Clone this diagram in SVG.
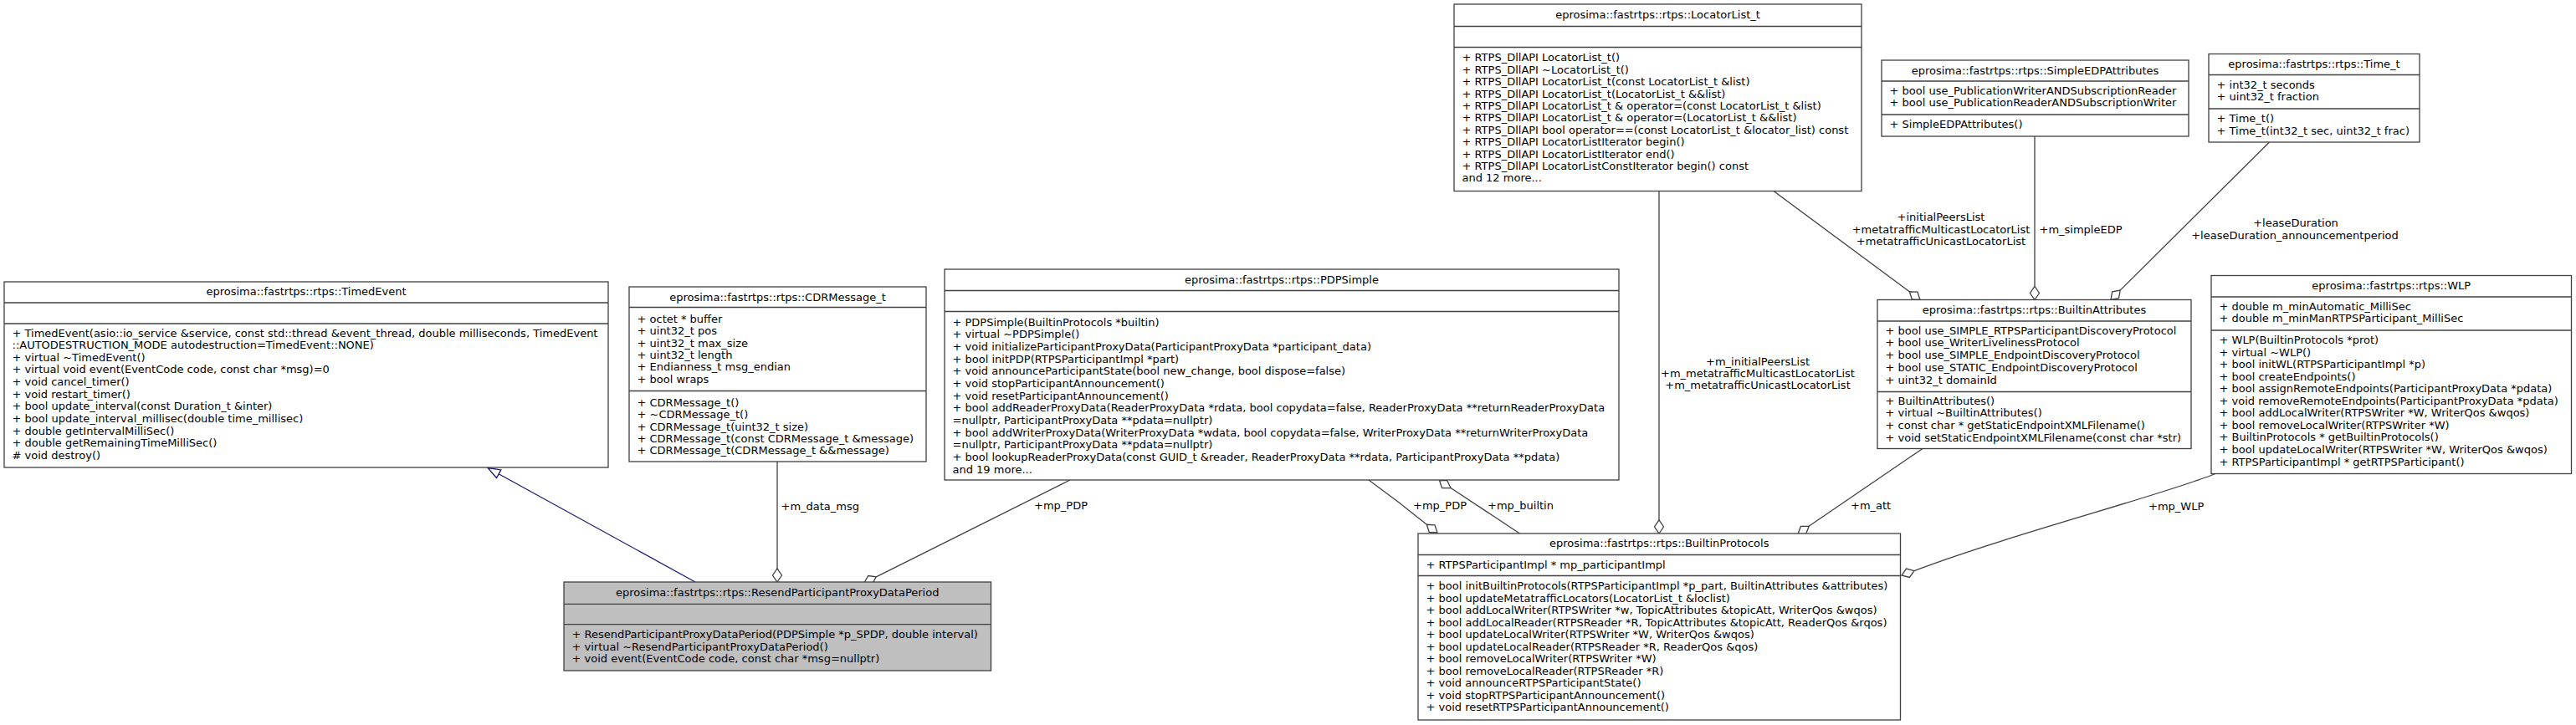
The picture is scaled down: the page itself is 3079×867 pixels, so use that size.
<svg xmlns="http://www.w3.org/2000/svg" width="3079" height="867" viewBox="0 0 3079 867">
<style>
text{font-family:"DejaVu Sans","Liberation Sans",sans-serif;font-size:13px;fill:#000}
.c{text-anchor:middle}
.box{fill:#fff;stroke:#404040;stroke-width:1.3}
.sel{fill:#bfbfbf}
.sep{stroke:#404040;stroke-width:1.3}
.e{fill:none;stroke:#404040;stroke-width:1.3}
.d{fill:#fff;stroke:#404040;stroke-width:1.3}
.inh{fill:none;stroke:#191970;stroke-width:1.3}
.tri{fill:#fff;stroke:#191970;stroke-width:1.3}
</style>
<rect width="3079" height="867" fill="#fff"/>
<g id="connectors">
  <!-- inheritance -->
  <line class="inh" x1="831" y1="696" x2="596.1" y2="566.7"/>
  <polygon class="tri" points="583,559.5 598.8,561.9 593.5,571.5"/>
  <!-- m_data_msg -->
  <line class="e" x1="929" y1="552" x2="929" y2="680"/>
  <polygon class="d" points="929,696 934.5,688 929,680 923.5,688"/>
  <text x="933.5" y="609.5">+m_data_msg</text>
  <!-- mp_PDP to Resend -->
  <line class="e" x1="1279" y1="574" x2="1047.3" y2="689.8"/>
  <polygon class="d" points="1033,697 1042.6,698.3 1047.3,689.8 1037.7,688.5"/>
  <text x="1236" y="608.5">+mp_PDP</text>
  <!-- mp_PDP to BuiltinProtocols -->
  <path class="e" d="M1636,574 Q1672,600 1705.3,627.3"/>
  <polygon class="d" points="1718,637 1708.3,636.5 1705.3,627.3 1715,627.8"/>
  <text x="1689" y="608.5">+mp_PDP</text>
  <!-- mp_builtin -->
  <line class="e" x1="1816.5" y1="638" x2="1734" y2="583.5"/>
  <polygon class="d" points="1720.6,574.8 1723.6,583.6 1734,583.5 1729.6,574.4"/>
  <text x="1778" y="608.5">+mp_builtin</text>
  <!-- LocatorList to BuiltinProtocols -->
  <line class="e" x1="1983" y1="228.5" x2="1983" y2="622"/>
  <polygon class="d" points="1983,638 1988.5,630 1983,622 1977.5,630"/>
  <text class="c" x="2101"><tspan x="2101" y="436.6">+m_initialPeersList</tspan><tspan x="2101" y="451">+m_metatrafficMulticastLocatorList</tspan><tspan x="2101" y="465.3">+m_metatrafficUnicastLocatorList</tspan></text>
  <!-- LocatorList to BuiltinAttributes -->
  <line class="e" x1="2120" y1="228.5" x2="2282.3" y2="348.8"/>
  <polygon class="d" points="2295,358.5 2285.3,358 2282.3,348.8 2292,349.2"/>
  <text class="c" x="2320"><tspan x="2320" y="264.3">+initialPeersList</tspan><tspan x="2320" y="278.6">+metatrafficMulticastLocatorList</tspan><tspan x="2320" y="293">+metatrafficUnicastLocatorList</tspan></text>
  <!-- SimpleEDP to BuiltinAttributes -->
  <line class="e" x1="2432" y1="163" x2="2432" y2="342.5"/>
  <polygon class="d" points="2432,358.5 2437.5,350.5 2432,342.5 2426.5,350.5"/>
  <text x="2437.5" y="278.6">+m_simpleEDP</text>
  <!-- Time_t to BuiltinAttributes -->
  <line class="e" x1="2712.5" y1="170" x2="2534.2" y2="347.1"/>
  <polygon class="d" points="2523,358.5 2532.5,356.7 2534.2,347.1 2524.7,348.9"/>
  <text class="c" x="2744"><tspan x="2744" y="271">+leaseDuration</tspan><tspan x="2743" y="286">+leaseDuration_announcementperiod</tspan></text>
  <!-- m_att -->
  <line class="e" x1="2298" y1="536.5" x2="2162.1" y2="629.3"/>
  <polygon class="d" points="2149,638.5 2158.7,638.4 2162.1,629.3 2152.4,629.4"/>
  <text x="2212" y="608.6">+m_att</text>
  <!-- mp_WLP -->
  <path class="e" d="M2648,566.5 C2585,592 2400,640 2288,682.6"/>
  <polygon class="d" points="2273,688 2282.4,690.5 2288,682.6 2278.6,680.1"/>
  <text x="2568" y="609.5">+mp_WLP</text>
</g>
<g id="TimedEvent">
  <rect class="box" x="5" y="337" width="722" height="222"/>
  <line class="sep" x1="5" y1="362" x2="727" y2="362"/>
  <line class="sep" x1="5" y1="387" x2="727" y2="387"/>
  <text class="c" x="366" y="353">eprosima::fastrtps::rtps::TimedEvent</text>
  <text x="14.5" y="402.5"><tspan x="14.5" dy="0">+ TimedEvent(asio::io_service &amp;service, const std::thread &amp;event_thread, double milliseconds, TimedEvent</tspan><tspan x="14.5" dy="14.65">::AUTODESTRUCTION_MODE autodestruction=TimedEvent::NONE)</tspan><tspan x="14.5" dy="14.65">+ virtual ~TimedEvent()</tspan><tspan x="14.5" dy="14.65">+ virtual void event(EventCode code, const char *msg)=0</tspan><tspan x="14.5" dy="14.65">+ void cancel_timer()</tspan><tspan x="14.5" dy="14.65">+ void restart_timer()</tspan><tspan x="14.5" dy="14.65">+ bool update_interval(const Duration_t &amp;inter)</tspan><tspan x="14.5" dy="14.65">+ bool update_interval_millisec(double time_millisec)</tspan><tspan x="14.5" dy="14.65">+ double getIntervalMilliSec()</tspan><tspan x="14.5" dy="14.65">+ double getRemainingTimeMilliSec()</tspan><tspan x="14.5" dy="14.65"># void destroy()</tspan></text>
</g>
<g id="CDRMessage_t">
  <rect class="box" x="752" y="343" width="355" height="209"/>
  <line class="sep" x1="752" y1="367.5" x2="1107" y2="367.5"/>
  <line class="sep" x1="752" y1="467.5" x2="1107" y2="467.5"/>
  <text class="c" x="929.5" y="359.5">eprosima::fastrtps::rtps::CDRMessage_t</text>
  <text x="761.5" y="386"><tspan x="761.5" dy="0">+ octet * buffer</tspan><tspan x="761.5" dy="14.3">+ uint32_t pos</tspan><tspan x="761.5" dy="14.3">+ uint32_t max_size</tspan><tspan x="761.5" dy="14.3">+ uint32_t length</tspan><tspan x="761.5" dy="14.3">+ Endianness_t msg_endian</tspan><tspan x="761.5" dy="14.3">+ bool wraps</tspan></text>
  <text x="761.5" y="486"><tspan x="761.5" dy="0">+ CDRMessage_t()</tspan><tspan x="761.5" dy="14.3">+ ~CDRMessage_t()</tspan><tspan x="761.5" dy="14.3">+ CDRMessage_t(uint32_t size)</tspan><tspan x="761.5" dy="14.3">+ CDRMessage_t(const CDRMessage_t &amp;message)</tspan><tspan x="761.5" dy="14.3">+ CDRMessage_t(CDRMessage_t &amp;&amp;message)</tspan></text>
</g>
<g id="PDPSimple">
  <rect class="box" x="1129" y="322" width="806" height="252"/>
  <line class="sep" x1="1129" y1="347.5" x2="1935" y2="347.5"/>
  <line class="sep" x1="1129" y1="372.5" x2="1935" y2="372.5"/>
  <text class="c" x="1532" y="338.5">eprosima::fastrtps::rtps::PDPSimple</text>
  <text x="1138.5" y="389.5"><tspan x="1138.5" dy="0">+ PDPSimple(BuiltinProtocols *builtin)</tspan><tspan x="1138.5" dy="14.67">+ virtual ~PDPSimple()</tspan><tspan x="1138.5" dy="14.67">+ void initializeParticipantProxyData(ParticipantProxyData *participant_data)</tspan><tspan x="1138.5" dy="14.67">+ bool initPDP(RTPSParticipantImpl *part)</tspan><tspan x="1138.5" dy="14.67">+ void announceParticipantState(bool new_change, bool dispose=false)</tspan><tspan x="1138.5" dy="14.67">+ void stopParticipantAnnouncement()</tspan><tspan x="1138.5" dy="14.67">+ void resetParticipantAnnouncement()</tspan><tspan x="1138.5" dy="14.67">+ bool addReaderProxyData(ReaderProxyData *rdata, bool copydata=false, ReaderProxyData **returnReaderProxyData</tspan><tspan x="1138.5" dy="14.67">=nullptr, ParticipantProxyData **pdata=nullptr)</tspan><tspan x="1138.5" dy="14.67">+ bool addWriterProxyData(WriterProxyData *wdata, bool copydata=false, WriterProxyData **returnWriterProxyData</tspan><tspan x="1138.5" dy="14.67">=nullptr, ParticipantProxyData **pdata=nullptr)</tspan><tspan x="1138.5" dy="14.67">+ bool lookupReaderProxyData(const GUID_t &amp;reader, ReaderProxyData **rdata, ParticipantProxyData **pdata)</tspan><tspan x="1138.5" dy="14.67">and 19 more...</tspan></text>
</g>
<g id="LocatorList_t">
  <rect class="box" x="1738" y="5" width="487" height="223.5"/>
  <line class="sep" x1="1738" y1="31.5" x2="2225" y2="31.5"/>
  <line class="sep" x1="1738" y1="56.5" x2="2225" y2="56.5"/>
  <text class="c" x="1981.5" y="22">eprosima::fastrtps::rtps::LocatorList_t</text>
  <text x="1747.5" y="73.3"><tspan x="1747.5" dy="0">+ RTPS_DllAPI LocatorList_t()</tspan><tspan x="1747.5" dy="14.4">+ RTPS_DllAPI ~LocatorList_t()</tspan><tspan x="1747.5" dy="14.4">+ RTPS_DllAPI LocatorList_t(const LocatorList_t &amp;list)</tspan><tspan x="1747.5" dy="14.4">+ RTPS_DllAPI LocatorList_t(LocatorList_t &amp;&amp;list)</tspan><tspan x="1747.5" dy="14.4">+ RTPS_DllAPI LocatorList_t &amp; operator=(const LocatorList_t &amp;list)</tspan><tspan x="1747.5" dy="14.4">+ RTPS_DllAPI LocatorList_t &amp; operator=(LocatorList_t &amp;&amp;list)</tspan><tspan x="1747.5" dy="14.4">+ RTPS_DllAPI bool operator==(const LocatorList_t &amp;locator_list) const</tspan><tspan x="1747.5" dy="14.4">+ RTPS_DllAPI LocatorListIterator begin()</tspan><tspan x="1747.5" dy="14.4">+ RTPS_DllAPI LocatorListIterator end()</tspan><tspan x="1747.5" dy="14.4">+ RTPS_DllAPI LocatorListConstIterator begin() const</tspan><tspan x="1747.5" dy="14.4">and 12 more...</tspan></text>
</g>
<g id="SimpleEDPAttributes">
  <rect class="box" x="2249" y="72" width="367" height="91"/>
  <line class="sep" x1="2249" y1="97" x2="2616" y2="97"/>
  <line class="sep" x1="2249" y1="137" x2="2616" y2="137"/>
  <text class="c" x="2432.5" y="88.5">eprosima::fastrtps::rtps::SimpleEDPAttributes</text>
  <text x="2258.5" y="112.6"><tspan x="2258.5" dy="0">+ bool use_PublicationWriterANDSubscriptionReader</tspan><tspan x="2258.5" dy="14.8">+ bool use_PublicationReaderANDSubscriptionWriter</tspan></text>
  <text x="2258.5" y="152.5">+ SimpleEDPAttributes()</text>
</g>
<g id="Time_t">
  <rect class="box" x="2640" y="64.5" width="252" height="105.5"/>
  <line class="sep" x1="2640" y1="89.5" x2="2892" y2="89.5"/>
  <line class="sep" x1="2640" y1="130" x2="2892" y2="130"/>
  <text class="c" x="2766" y="81">eprosima::fastrtps::rtps::Time_t</text>
  <text x="2649.5" y="105.5"><tspan x="2649.5" dy="0">+ int32_t seconds</tspan><tspan x="2649.5" dy="14.6">+ uint32_t fraction</tspan></text>
  <text x="2649.5" y="146"><tspan x="2649.5" dy="0">+ Time_t()</tspan><tspan x="2649.5" dy="14.6">+ Time_t(int32_t sec, uint32_t frac)</tspan></text>
</g>
<g id="BuiltinAttributes">
  <rect class="box" x="2244" y="358.5" width="375" height="178"/>
  <line class="sep" x1="2244" y1="384" x2="2619" y2="384"/>
  <line class="sep" x1="2244" y1="468.5" x2="2619" y2="468.5"/>
  <text class="c" x="2431.5" y="375">eprosima::fastrtps::rtps::BuiltinAttributes</text>
  <text x="2253.5" y="399.5"><tspan x="2253.5" dy="0">+ bool use_SIMPLE_RTPSParticipantDiscoveryProtocol</tspan><tspan x="2253.5" dy="14.75">+ bool use_WriterLivelinessProtocol</tspan><tspan x="2253.5" dy="14.75">+ bool use_SIMPLE_EndpointDiscoveryProtocol</tspan><tspan x="2253.5" dy="14.75">+ bool use_STATIC_EndpointDiscoveryProtocol</tspan><tspan x="2253.5" dy="14.75">+ uint32_t domainId</tspan></text>
  <text x="2253.5" y="483.6"><tspan x="2253.5" dy="0">+ BuiltinAttributes()</tspan><tspan x="2253.5" dy="14.7">+ virtual ~BuiltinAttributes()</tspan><tspan x="2253.5" dy="14.7">+ const char * getStaticEndpointXMLFilename()</tspan><tspan x="2253.5" dy="14.7">+ void setStaticEndpointXMLFilename(const char *str)</tspan></text>
</g>
<g id="WLP">
  <rect class="box" x="2643" y="329.5" width="430.5" height="237"/>
  <line class="sep" x1="2643" y1="355" x2="3073.5" y2="355"/>
  <line class="sep" x1="2643" y1="395" x2="3073.5" y2="395"/>
  <text class="c" x="2858.25" y="345.5">eprosima::fastrtps::rtps::WLP</text>
  <text x="2652.5" y="371"><tspan x="2652.5" dy="0">+ double m_minAutomatic_MilliSec</tspan><tspan x="2652.5" dy="14.3">+ double m_minManRTPSParticipant_MilliSec</tspan></text>
  <text x="2652.5" y="411"><tspan x="2652.5" dy="0">+ WLP(BuiltinProtocols *prot)</tspan><tspan x="2652.5" dy="14.56">+ virtual ~WLP()</tspan><tspan x="2652.5" dy="14.56">+ bool initWL(RTPSParticipantImpl *p)</tspan><tspan x="2652.5" dy="14.56">+ bool createEndpoints()</tspan><tspan x="2652.5" dy="14.56">+ bool assignRemoteEndpoints(ParticipantProxyData *pdata)</tspan><tspan x="2652.5" dy="14.56">+ void removeRemoteEndpoints(ParticipantProxyData *pdata)</tspan><tspan x="2652.5" dy="14.56">+ bool addLocalWriter(RTPSWriter *W, WriterQos &amp;wqos)</tspan><tspan x="2652.5" dy="14.56">+ bool removeLocalWriter(RTPSWriter *W)</tspan><tspan x="2652.5" dy="14.56">+ BuiltinProtocols * getBuiltinProtocols()</tspan><tspan x="2652.5" dy="14.56">+ bool updateLocalWriter(RTPSWriter *W, WriterQos &amp;wqos)</tspan><tspan x="2652.5" dy="14.56">+ RTPSParticipantImpl * getRTPSParticipant()</tspan></text>
</g>
<g id="BuiltinProtocols">
  <rect class="box" x="1695" y="638" width="576.5" height="223"/>
  <line class="sep" x1="1695" y1="663.5" x2="2271.5" y2="663.5"/>
  <line class="sep" x1="1695" y1="688.5" x2="2271.5" y2="688.5"/>
  <text class="c" x="1983.25" y="654">eprosima::fastrtps::rtps::BuiltinProtocols</text>
  <text x="1704.5" y="679.5">+ RTPSParticipantImpl * mp_participantImpl</text>
  <text x="1704.5" y="705"><tspan x="1704.5" dy="0">+ bool initBuiltinProtocols(RTPSParticipantImpl *p_part, BuiltinAttributes &amp;attributes)</tspan><tspan x="1704.5" dy="14.53">+ bool updateMetatrafficLocators(LocatorList_t &amp;loclist)</tspan><tspan x="1704.5" dy="14.53">+ bool addLocalWriter(RTPSWriter *w, TopicAttributes &amp;topicAtt, WriterQos &amp;wqos)</tspan><tspan x="1704.5" dy="14.53">+ bool addLocalReader(RTPSReader *R, TopicAttributes &amp;topicAtt, ReaderQos &amp;rqos)</tspan><tspan x="1704.5" dy="14.53">+ bool updateLocalWriter(RTPSWriter *W, WriterQos &amp;wqos)</tspan><tspan x="1704.5" dy="14.53">+ bool updateLocalReader(RTPSReader *R, ReaderQos &amp;qos)</tspan><tspan x="1704.5" dy="14.53">+ bool removeLocalWriter(RTPSWriter *W)</tspan><tspan x="1704.5" dy="14.53">+ bool removeLocalReader(RTPSReader *R)</tspan><tspan x="1704.5" dy="14.53">+ void announceRTPSParticipantState()</tspan><tspan x="1704.5" dy="14.53">+ void stopRTPSParticipantAnnouncement()</tspan><tspan x="1704.5" dy="14.53">+ void resetRTPSParticipantAnnouncement()</tspan></text>
</g>
<g id="ResendParticipantProxyDataPeriod">
  <rect class="box sel" x="674" y="696" width="510.5" height="106"/>
  <line class="sep" x1="674" y1="722.3" x2="1184.5" y2="722.3"/>
  <line class="sep" x1="674" y1="746.7" x2="1184.5" y2="746.7"/>
  <text class="c" x="929.25" y="713">eprosima::fastrtps::rtps::ResendParticipantProxyDataPeriod</text>
  <text x="683.5" y="763.3"><tspan x="683.5" dy="0">+ ResendParticipantProxyDataPeriod(PDPSimple *p_SPDP, double interval)</tspan><tspan x="683.5" dy="14.4">+ virtual ~ResendParticipantProxyDataPeriod()</tspan><tspan x="683.5" dy="14.4">+ void event(EventCode code, const char *msg=nullptr)</tspan></text>
</g>
</svg>
